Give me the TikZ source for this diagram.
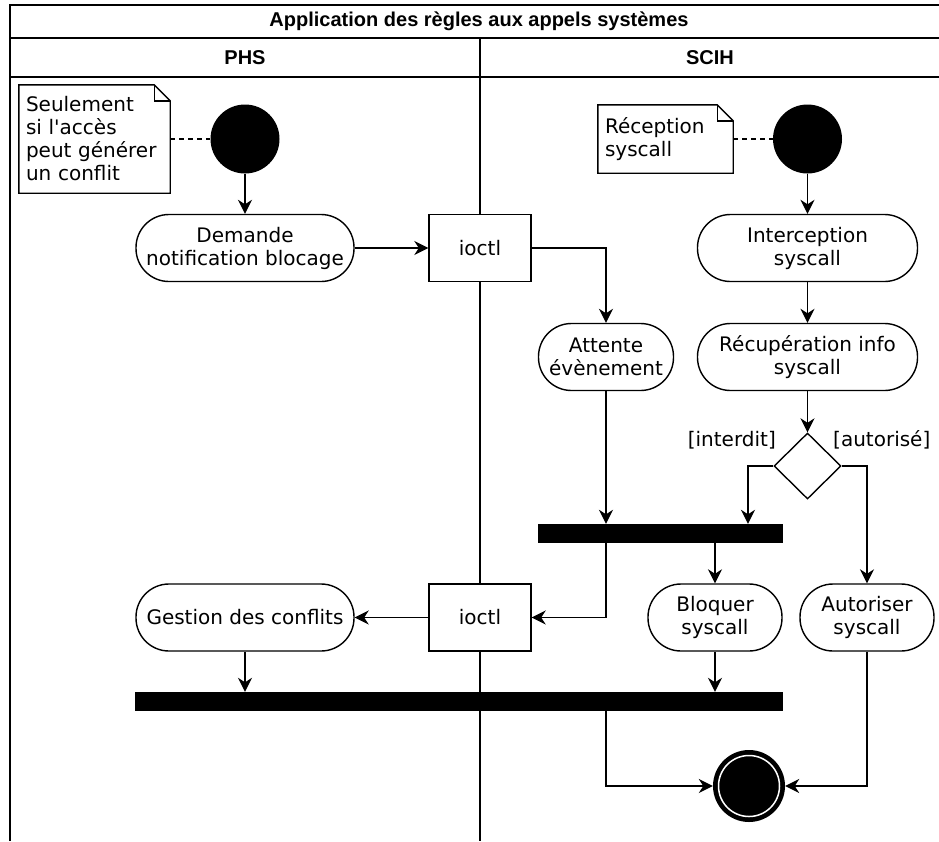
\documentclass[tikz,border=0pt]{standalone}
\usepackage{fontspec}
\newfontfamily\bodyfont{DejaVu Sans}
\newfontfamily\titlefont{Liberation Sans}
\usepackage{tikz}
\usetikzlibrary{shapes.geometric, arrows.meta}

\begin{document}
\begin{tikzpicture}[x=1pt, y=-1pt,
	every node/.style={font=\bodyfont\fontsize{20}{23}\selectfont},
	titletext/.style={font=\titlefont\fontsize{20}{23}\selectfont\bfseries},
	lane/.style={line width=1.6pt},
	action/.style={draw, fill=white, line width=1.4pt, rounded corners=33pt, minimum height=67pt, align=center, inner sep=0pt},
	pipe/.style={draw, fill=white, line width=1.4pt, minimum width=102pt, minimum height=67pt},
	choice/.style={diamond, draw, fill=white, line width=1.4pt, minimum width=67pt, minimum height=66pt, inner sep=0pt},
	bar/.style={fill=black, inner sep=0pt, minimum height=19pt},
	startdot/.style={circle, fill=black, minimum size=69pt, inner sep=0pt},
	enddot/.style={circle, fill=black, minimum size=72pt, inner sep=0pt},
	note/.style={align=left, inner sep=7pt},
	flow/.style={line width=1.4pt, -{Stealth[length=14pt, width=14pt, inset=4.5pt]}}]
	\useasboundingbox (0,0) rectangle (939,841);
	\draw[lane] (10,841) -- (10,5) -- (940,5);
	\draw[lane] (10,38) -- (940,38);
	\draw[lane] (10,77) -- (940,77);
	\draw[lane] (480,38) -- (480,841);
	\node[titletext] (titre) at (479,21.5) {Application des règles aux appels systèmes};
	\node[titletext] (phs) at (245,57.5) {PHS};
	\node[titletext] (scih) at (710,57.5) {SCIH};

	\node[note, text width=137pt, minimum height=108pt] (seul) at (94.5,139) {Seulement\\si l'accès\\peut générer\\un conflit};
	\draw[line width=1.4pt] (seul.north west) -- ([xshift=-16pt]seul.north east) -- ([yshift=-16pt]seul.north east) -- (seul.south east) -- (seul.south west) -- cycle;
	\draw[line width=1.4pt] ([xshift=-16pt]seul.north east) |- ([yshift=-16pt]seul.north east);
	\node[note, text width=121pt, minimum height=68pt] (recep) at (665.5,139) {Réception\\syscall};
	\draw[line width=1.4pt] (recep.north west) -- ([xshift=-16pt]recep.north east) -- ([yshift=-16pt]recep.north east) -- (recep.south east) -- (recep.south west) -- cycle;
	\draw[line width=1.4pt] ([xshift=-16pt]recep.north east) |- ([yshift=-16pt]recep.north east);

	\node[startdot] (debut1) at (245,139) {};
	\node[startdot] (debut2) at (807.5,139) {};
	\node[action, minimum width=218pt] (demande) at (245,248) {Demande\\notification blocage};
	\node[pipe] (ioctl1) at (480,248) {ioctl};
	\node[action, minimum width=220pt] (intercep) at (807.5,248) {Interception\\syscall};
	\node[action, minimum width=135pt] (attente) at (606,357) {Attente\\évènement};
	\node[action, minimum width=220pt] (recup) at (807.5,357) {Récupération info\\syscall};
	\node[choice] (choix) at (807.5,466) {};
	\node[anchor=east, inner sep=1pt] (interdit) at (777,440) {[interdit]};
	\node[anchor=west, inner sep=1pt] (autorise) at (832,440) {[autorisé]};
	\node[bar, minimum width=245pt] (join1) at (660.5,533.5) {};
	\node[action, minimum width=218pt] (gestion) at (245,617.5) {Gestion des conflits};
	\node[pipe] (ioctl2) at (480,617.5) {ioctl};
	\node[action, minimum width=134pt] (bloquer) at (715,617.5) {Bloquer\\syscall};
	\node[action, minimum width=134pt] (autoriser) at (867,617.5) {Autoriser\\syscall};
	\node[bar, minimum width=648pt] (join2) at (459,701.5) {};
	\node[enddot] (fin) at (749,786) {};
	\draw[white, line width=1.5pt] (fin.center) circle (30.5pt);

	\draw[line width=1.4pt, dash pattern=on 5pt off 4pt] (seul) -- (debut1);
	\draw[line width=1.4pt, dash pattern=on 5pt off 4pt] (recep) -- (debut2);
	\draw[flow] (debut1) -- (demande);
	\draw[flow] (demande) -- (ioctl1);
	\draw[flow] (ioctl1) -| (attente);
	\draw[flow] (debut2) -- (intercep);
	\draw[flow] (intercep) -- (recup);
	\draw[flow] (recup) -- (choix);
	\draw[flow] (choix.west) -| ([xshift=87.5pt]join1.north);
	\draw[flow] (choix.east) -| (autoriser);
	\draw[flow] (attente) -- (attente |- join1.north);
	\draw[flow] (join1.south -| bloquer) -- (bloquer);
	\draw[flow] (join1.south -| attente) |- (ioctl2);
	\draw[flow] (ioctl2) -- (gestion);
	\draw[flow] (gestion) -- (gestion |- join2.north);
	\draw[flow] (bloquer) -- (bloquer |- join2.north);
	\draw[flow] (join2.south -| attente) |- (fin);
	\draw[flow] (autoriser) |- (fin);
\end{tikzpicture}
\end{document}
